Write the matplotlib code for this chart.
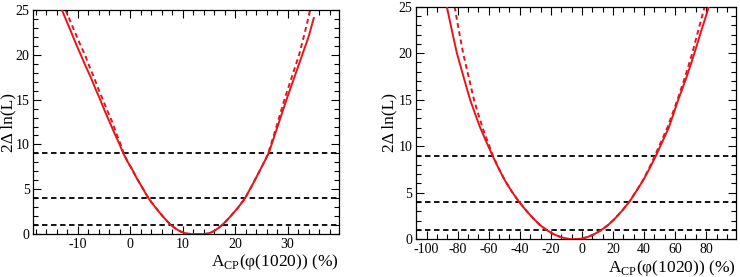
import numpy as np
import matplotlib
matplotlib.use("Agg")
import matplotlib.pyplot as plt
from matplotlib.ticker import MultipleLocator

plt.rcParams['font.family'] = ['Liberation Serif', 'DejaVu Serif']
plt.rcParams['mathtext.fontset'] = 'custom'
plt.rcParams['mathtext.rm'] = 'Liberation Serif'
plt.rcParams['axes.unicode_minus'] = False

# significance levels (1, 2, 3 sigma)
levels = [1, 4, 9]

# left panel, solid scan
left_solid_x = [-13.0, -12.1, -11.2, -10.3, -9.4, -8.45, -7.5, -6.6, -5.7, -4.8, -3.9, -2.95,
                -2.0, -1.3, -0.5, 0.4, 1.2, 2.0, 2.8, 3.5, 4.25, 5.0, 5.75, 6.5, 7.15, 7.8,
                8.5, 9.2, 9.85, 10.5, 11.15, 11.8, 14.0, 14.65, 15.3, 15.85, 16.4, 16.95,
                17.5, 18.25, 19.0, 19.75, 20.5, 21.2, 21.9, 22.65, 23.4, 24.15, 24.9, 25.65,
                26.4, 27.25, 28.1, 28.95, 29.8, 30.55, 31.3, 32.05, 32.8, 33.4, 34.0, 34.5, 35.0]
left_solid_y = [25.0, 23.75, 22.5, 21.2, 20.0, 18.7, 17.5, 16.2, 15.0, 13.7, 12.5, 11.2,
                10.0, 9.0, 8.1, 7.2, 6.3, 5.5, 4.7, 4.0, 3.4, 2.85, 2.3, 1.8, 1.38, 1.0,
                0.68, 0.42, 0.23, 0.1, 0.03, 0.0, 0.0, 0.04, 0.15, 0.3, 0.5, 0.73,
                1.0, 1.42, 1.9, 2.4, 2.9, 3.45, 4.0, 4.8, 5.6, 6.45, 7.3, 8.15,
                9.0, 10.5, 12.0, 13.5, 15.0, 16.25, 17.5, 18.75, 20.0, 21.0, 22.0, 23.05, 24.1]

# left panel, dashed scan (differs from solid above 2dlnL ~ 9)
left_dash_x = [-12.3, -11.4, -10.5, -9.55, -8.6, -7.75, -6.9, -6.05, -5.2, -4.3, -3.4, -2.6,
               -1.8, -1.2, -0.5, 0.4, 1.2, 2.0, 2.8, 3.5, 4.25, 5.0, 5.75, 6.5, 7.15, 7.8,
               8.5, 9.2, 9.85, 10.5, 11.15, 11.8, 14.0, 14.65, 15.3, 15.85, 16.4, 16.95,
               17.5, 18.25, 19.0, 19.75, 20.5, 21.2, 21.9, 22.65, 23.4, 24.15, 24.9, 25.65,
               26.3, 27.1, 27.9, 28.65, 29.4, 30.1, 30.8, 31.5, 32.2, 32.75, 33.3, 33.8, 34.3]
left_dash_y = [25.0, 23.75, 22.5, 21.2, 20.0, 18.7, 17.5, 16.2, 15.0, 13.7, 12.5, 11.2,
               10.0, 9.0, 8.1, 7.2, 6.3, 5.5, 4.7, 4.0, 3.4, 2.85, 2.3, 1.8, 1.38, 1.0,
               0.68, 0.42, 0.23, 0.1, 0.03, 0.0, 0.0, 0.04, 0.15, 0.3, 0.5, 0.73,
               1.0, 1.42, 1.9, 2.4, 2.9, 3.45, 4.0, 4.8, 5.6, 6.45, 7.3, 8.15,
               9.0, 10.5, 12.0, 13.5, 15.0, 16.25, 17.5, 18.75, 20.0, 21.25, 22.5, 23.75, 25.0]

# right panel, solid scan
right_solid_x = [-87.0, -83.8, -80.5, -76.3, -72.0, -68.8, -65.5, -61.6, -57.6, -53.6, -49.5,
                 -45.2, -40.8, -36.2, -31.5, -27.2, -22.8, -18.4, -14.0, -9.5, -5.0, -0.7,
                 3.5, 7.9, 12.3, 16.8, 21.2, 26.2, 31.0, 35.5, 39.8, 43.8, 47.7, 51.8, 55.9,
                 59.0, 62.0, 64.8, 67.5, 70.0, 72.4, 74.7, 77.0, 79.4, 81.7]
right_solid_y = [25.0, 22.5, 20.0, 17.5, 15.0, 13.5, 12.0, 10.5, 9.0, 7.6, 6.3,
                 5.15, 4.1, 3.15, 2.27, 1.56, 1.0, 0.57, 0.26, 0.06, 0.0, 0.06,
                 0.24, 0.55, 0.98, 1.53, 2.22, 3.14, 4.15, 5.3, 6.45, 7.7, 9.0, 10.5, 12.0,
                 13.5, 15.0, 16.25, 17.5, 18.75, 20.0, 21.25, 22.5, 23.75, 25.0]

# right panel, dashed scan
right_dash_x = [-82.0, -79.3, -76.5, -73.0, -69.5, -66.8, -64.0, -60.7, -57.3, -53.5, -49.5,
                -45.2, -40.8, -36.2, -31.5, -27.2, -22.8, -18.4, -14.0, -9.5, -5.0, -0.7,
                3.5, 7.9, 12.3, 16.8, 21.2, 26.2, 31.0, 35.4, 39.6, 43.4, 47.0, 51.0, 55.0,
                58.3, 61.5, 64.0, 66.5, 68.8, 71.0, 73.0, 75.0, 77.0, 79.0]
right_dash_y = right_solid_y

xlabel = r'A$_{\mathrm{CP}}$(φ(1020)) (%)'
ylabel = '2Δ ln(L)'

fig = plt.figure(figsize=(7.4, 2.77), dpi=100)
ax1 = fig.add_axes([0.0446, 0.155, 0.4135, 0.809])
ax2 = fig.add_axes([0.5618, 0.136, 0.4324, 0.840])

panels = [
    (ax1, left_solid_x, left_solid_y, left_dash_x, left_dash_y, (-18.5, 39.8), 10, 2),
    (ax2, right_solid_x, right_solid_y, right_dash_x, right_dash_y, (-107, 99), 20, 20 / 3),
]

for ax, sx, sy, dx, dy, xlim, major, minor in panels:
    for lv in levels:
        ax.axhline(lv, color='black', lw=1.3, ls=(0, (3, 2)), zorder=1)
    ax.plot(dx, dy, color='#e8141c', lw=1.4, ls=(0, (2.5, 1.8)), zorder=2)
    ax.plot(sx, sy, color='#e8141c', lw=1.4, zorder=3)
    ax.set_xlim(*xlim)
    ax.set_ylim(0, 25)
    ax.xaxis.set_major_locator(MultipleLocator(major))
    ax.xaxis.set_minor_locator(MultipleLocator(minor))
    ax.yaxis.set_major_locator(MultipleLocator(5))
    ax.yaxis.set_minor_locator(MultipleLocator(1))
    ax.tick_params(which='both', direction='in', top=True, right=True,
                   labelsize=10, width=0.8, pad=2.5)
    ax.tick_params(which='major', length=6)
    ax.tick_params(which='minor', length=3.5)
    for s in ax.spines.values():
        s.set_linewidth(0.9)
    ax.set_xlabel(xlabel, fontsize=12.5, ha='right', va='center')
    ax.xaxis.set_label_coords(1.0, -0.125)
    ax.set_ylabel(ylabel, fontsize=12.5, va='center')
    ax.yaxis.set_label_coords(-0.082, 0.5)

fig.savefig('out.png', dpi=100)
